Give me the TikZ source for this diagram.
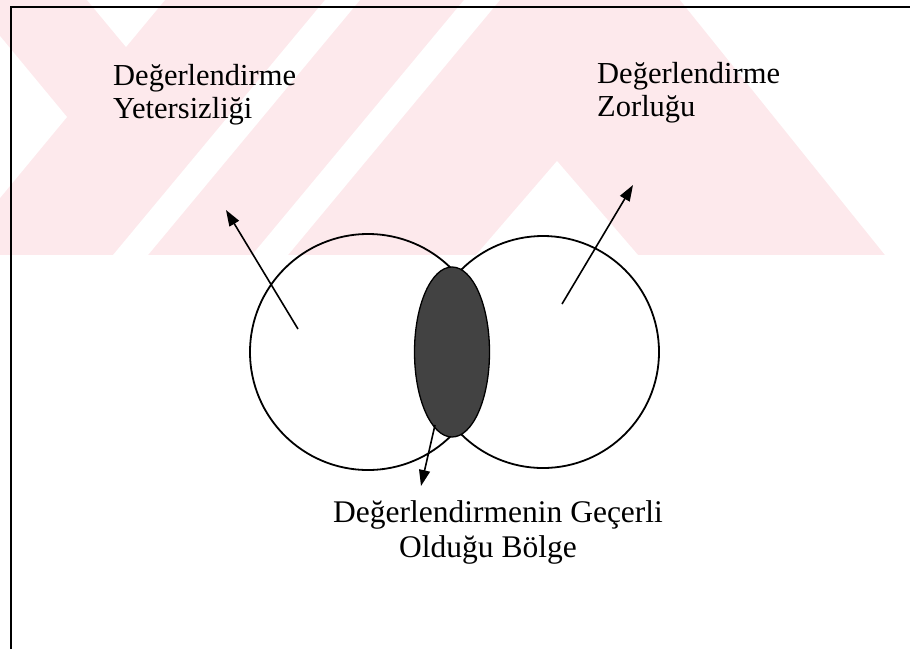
\documentclass[tikz,border=0pt]{standalone}
\usepackage{fontspec}
\setmainfont{Liberation Serif}
\usetikzlibrary{arrows.meta,shapes.geometric}
\definecolor{wm}{RGB}{253,233,236}
\tikzset{
  frameline/.style={line width=1.8pt, black},
  venn/.style={draw=black, line width=1.8pt},
  lensfill/.style={draw=black, line width=1.3pt, fill=black!74},
  pointer/.style={line width=1.6pt, -{Triangle[length=16pt,width=11pt]}},
  lbl/.style={font=\fontsize{30.5}{33}\selectfont, inner sep=0pt, align=left, anchor=north west},
  lblb/.style={font=\fontsize{31.5}{35}\selectfont, inner sep=0pt, align=left, anchor=north west},
  gap/.style={fill=white, draw=none}
}
\begin{document}
\begin{tikzpicture}[x=1pt,y=-1pt]
\useasboundingbox (0,0) rectangle (910,649);
% watermark
\begin{scope}
\clip (0,0) rectangle (910,255);
\fill[wm] (0,0) rectangle (910,255);
\fill[gap] (87,0) -- (165,0) -- (126,47) -- cycle;
\fill[gap] (0,36) -- (67,117) -- (0,198) -- cycle;
\fill[gap] (325,0) -- (360,0) -- (148,255) -- (113,255) -- cycle;
\fill[gap] (464,0) -- (500,0) -- (288,255) -- (252,255) -- cycle;
\fill[gap] (557,161) -- (638,255) -- (476,255) -- cycle;
\fill[gap] (680,0) -- (910,0) -- (910,255) -- (885,255) -- cycle;
\end{scope}
% frame
\draw[frameline] (11,649) -- (11,7) -- (910,7);
% circles and lens
\node[venn, circle, minimum size=236pt, inner sep=0pt] (L) at (368,352) {};
\node[venn, circle, minimum size=232pt, inner sep=0pt] (R) at (543,352) {};
\node[lensfill, ellipse, minimum width=75pt, minimum height=170pt, inner sep=0pt] (E) at (452,352) {};
% arrows
\coordinate (ls) at (298,329);
\coordinate (lt) at (226,210);
\coordinate (rs) at (562,304);
\coordinate (rt) at (633,185);
\coordinate (bs) at (435,425);
\coordinate (bt) at (421,486);
\draw[pointer] (ls) -- (lt);
\draw[pointer] (rs) -- (rt);
\draw[pointer] (bs) -- (bt);
% labels
\node[lbl] (t1) at (113,64) {Değerlendirme\\Yetersizliği};
\node[lbl] (t2) at (597,62) {Değerlendirme\\Zorluğu};
\node[lblb] (t3) at (333,500) {Değerlendirmenin Geçerli\\\hspace{66pt}Olduğu Bölge};
\end{tikzpicture}
\end{document}
